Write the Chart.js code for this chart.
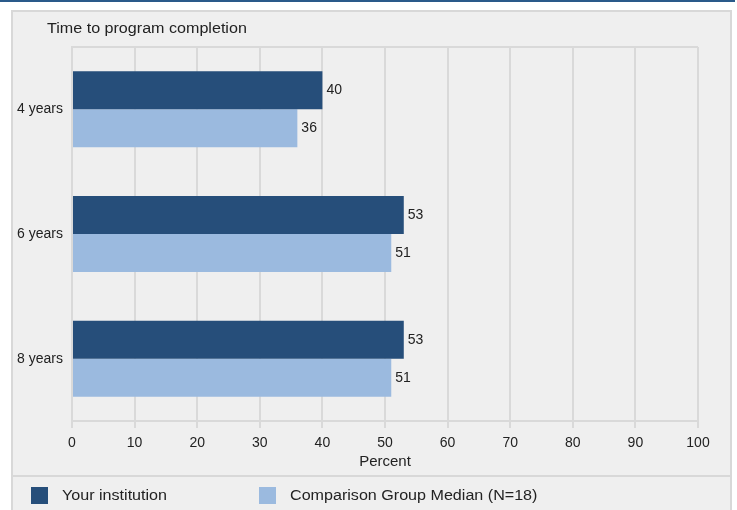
<!DOCTYPE html>
<html>
<head>
<meta charset="utf-8">
<script src="https://cdn.jsdelivr.net/npm/chart.js@4/dist/chart.umd.min.js"></script>
<style>
  body { margin: 0; background: #fff; }
  canvas { display: block; }
</style>
</head>
<body>
<canvas id="chart" width="737" height="510"></canvas>
<script>
const categories = ['4 years', '6 years', '8 years'];
const yourInstitution = [40, 53, 53];
const comparisonMedian = [36, 51, 51];
const seriesNames = ['Your institution', 'Comparison Group Median (N=18)'];
const chartTitle = 'Time to program completion';
const axisTitle = 'Percent';

const FONT = '"Liberation Sans", Arial, sans-serif';
const DARK = '#264e7a';
const LIGHT = '#9bbadf';
const GRID = '#d9d9d9';

// text in the source is a bit wider than Arial, stretch it a little
function wideText(ctx, text, x, y, stretch) {
    ctx.save();
    ctx.translate(x, y);
    ctx.scale(stretch, 1);
    ctx.fillText(text, 0, 0);
    ctx.restore();
}

// panel, title, legend and value labels
const decor = {
    id: 'decor',
    beforeDraw(chart) {
        const ctx = chart.ctx;
        ctx.save();
        ctx.fillStyle = '#2a5a8a';
        ctx.fillRect(0, 0, 735, 2);
        ctx.fillStyle = '#efefef';
        ctx.fillRect(12, 11, 719, 510);
        ctx.strokeStyle = '#d8d8d8';
        ctx.lineWidth = 2;
        ctx.strokeRect(12, 11, 719, 510);
        ctx.beginPath();
        ctx.moveTo(12, 476);
        ctx.lineTo(731, 476);
        ctx.stroke();

        ctx.fillStyle = '#222';
        ctx.font = '14px ' + FONT;
        ctx.textBaseline = 'middle';
        wideText(ctx, chartTitle, 47, 29, 1.15);

        // top edge of the plot box
        const a = chart.chartArea;
        ctx.strokeStyle = GRID;
        ctx.lineWidth = 2;
        ctx.beginPath();
        ctx.moveTo(a.left, a.top);
        ctx.lineTo(a.right, a.top);
        ctx.stroke();
        ctx.restore();
    },
    afterDatasetsDraw(chart) {
        const ctx = chart.ctx;
        ctx.save();
        ctx.fillStyle = '#222';
        ctx.font = '14px ' + FONT;
        ctx.textBaseline = 'middle';
        chart.data.datasets.forEach((ds, i) => {
            chart.getDatasetMeta(i).data.forEach((bar, j) => {
                ctx.fillText(String(ds.data[j]), bar.x + 4, bar.y);
            });
        });
        ctx.restore();
    },
    afterDraw(chart) {
        const ctx = chart.ctx;
        ctx.save();
        ctx.font = '14px ' + FONT;
        ctx.textBaseline = 'middle';
        const xs = [31, 259];
        chart.data.datasets.forEach((ds, i) => {
            ctx.fillStyle = ds.backgroundColor;
            ctx.fillRect(xs[i], 487, 17, 17);
            ctx.fillStyle = '#222';
            wideText(ctx, ds.label, xs[i] + 31, 496, 1.15);
        });
        ctx.restore();
    }
};

new Chart(document.getElementById('chart'), {
    type: 'bar',
    data: {
        labels: categories,
        datasets: [
            { label: seriesNames[0], data: yourInstitution, backgroundColor: DARK },
            { label: seriesNames[1], data: comparisonMedian, backgroundColor: LIGHT }
        ]
    },
    options: {
        indexAxis: 'y',
        responsive: false,
        animation: false,
        maintainAspectRatio: false,
        layout: { padding: { left: 0, top: 47, right: 39, bottom: 39 } },
        datasets: { bar: { barPercentage: 1, categoryPercentage: 0.61 } },
        plugins: {
            legend: { display: false },
            title: { display: false },
            tooltip: { enabled: false }
        },
        scales: {
            x: {
                min: 0,
                max: 100,
                ticks: { stepSize: 10, color: '#222', font: { family: FONT, size: 14 }, padding: 7 },
                grid: { color: GRID, lineWidth: 2, tickLength: 7 },
                border: { color: GRID, width: 2 },
                title: { display: true, text: axisTitle, color: '#222', font: { family: FONT, size: 15 }, padding: { top: 1, bottom: 0 } },
                afterFit(scale) { scale.height = 50; }
            },
            y: {
                ticks: { color: '#222', font: { family: FONT, size: 14 }, padding: 1 },
                grid: { display: false },
                border: { color: GRID, width: 2 },
                afterFit(scale) { scale.width = 72; }
            }
        }
    },
    plugins: [decor]
});
</script>
</body>
</html>
